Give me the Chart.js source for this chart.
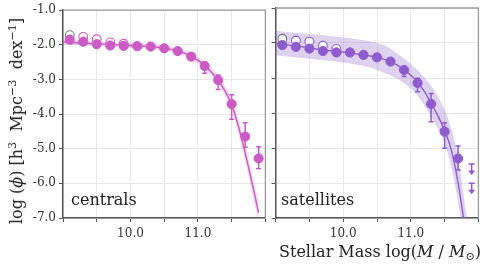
<!DOCTYPE html>
<html><head><meta charset="utf-8">
<script src="https://cdn.jsdelivr.net/npm/chart.js@4/dist/chart.umd.min.js"></script>
<style>
body{margin:0;background:#fff;width:484px;height:265px;overflow:hidden;position:relative;font-family:'DejaVu Serif',serif;color:#222}
canvas{position:absolute;top:0}
#cL{left:0}
#cR{left:270px}
.t{position:absolute;white-space:nowrap;font-size:16px;line-height:1}
sup,sub{font-size:0.7em;line-height:0}
sup{vertical-align:0.55em}
sub{vertical-align:-0.3em}
</style></head><body>
<canvas id="cL" width="271" height="265"></canvas>
<canvas id="cR" width="214" height="265"></canvas>
<div class="t" id="yt" style="left:17px;top:121px;transform:translate(-50%,-50%) rotate(-90deg)">log (<i>ϕ</i>) [h<sup>3</sup>&nbsp; Mpc<sup>−3</sup>&nbsp; dex<sup>−1</sup>]</div>
<div class="t" id="xt" style="right:3px;top:244px">Stellar Mass log(<i>M</i> / <i>M</i><sub>⊙</sub>)</div>
<div class="t" style="left:71px;top:192px">centrals</div>
<div class="t" style="left:281px;top:192px">satellites</div>
<script>
// ---- data ----
const mass = [9.1, 9.3, 9.5, 9.7, 9.9, 10.1, 10.3, 10.5, 10.7, 10.9, 11.1, 11.3, 11.5, 11.7, 11.9];
const massOpen = [9.1, 9.3, 9.5, 9.7, 9.9];
const xTickLabels = ['10.0', '11.0'];

const cenPhi   = [-1.85, -1.91, -1.98, -2.02, -2.03, -2.04, -2.05, -2.10, -2.18, -2.34, -2.61, -3.02, -3.71, -4.65, -5.28];
const cenErrUp = [0.02, 0.02, 0.02, 0.02, 0.02, 0.02, 0.02, 0.03, 0.04, 0.06, 0.11, 0.15, 0.27, 0.40, 0.34];
const cenErrDn = [0.02, 0.02, 0.02, 0.02, 0.02, 0.02, 0.02, 0.03, 0.05, 0.09, 0.21, 0.27, 0.44, 0.31, 0.30];
const cenOpen  = [-1.72, -1.77, -1.84, -1.93, -1.97];

const massModel = [9.0, 9.2, 9.4, 9.6, 9.8, 10.0, 10.2, 10.4, 10.6, 10.8, 11.0, 11.1, 11.2, 11.3, 11.4, 11.5, 11.6, 11.7, 11.8, 11.9];
const cenModel = [-1.92, -1.94, -1.96, -1.98, -2.00, -2.02, -2.04, -2.07, -2.13, -2.24, -2.45, -2.60, -2.79, -3.02, -3.33, -3.72, -4.35, -5.12, -5.97, -6.85];
const cenUpper = [-1.85, -1.87, -1.89, -1.91, -1.93, -1.95, -1.97, -2.00, -2.06, -2.16, -2.36, -2.50, -2.68, -2.90, -3.19, -3.56, -4.15, -4.90, -5.70, -6.55];
const cenLower = [-1.99, -2.01, -2.03, -2.05, -2.07, -2.09, -2.11, -2.14, -2.20, -2.32, -2.54, -2.70, -2.90, -3.14, -3.47, -3.88, -4.55, -5.34, -6.24, -7.15];

const massSat   = [9.1, 9.3, 9.5, 9.7, 9.9, 10.1, 10.3, 10.5, 10.7, 10.9, 11.1, 11.3, 11.5, 11.7];
const satPhi    = [-2.06, -2.11, -2.16, -2.23, -2.27, -2.27, -2.34, -2.41, -2.53, -2.77, -3.14, -3.74, -4.53, -5.30];
const satErrUp  = [0.02, 0.02, 0.02, 0.02, 0.02, 0.02, 0.02, 0.03, 0.04, 0.07, 0.13, 0.30, 0.25, 0.36];
const satErrDn  = [0.02, 0.02, 0.02, 0.02, 0.02, 0.02, 0.02, 0.03, 0.05, 0.19, 0.25, 0.51, 0.48, 0.33];
const satOpen   = [-1.88, -1.93, -1.96, -2.08, -2.17];
const satLimMass = [11.9, 11.9];
const satLimPhi  = [-5.46, -6.01];

const massSatModel = [9.0, 9.2, 9.4, 9.6, 9.8, 10.0, 10.2, 10.4, 10.6, 10.8, 11.0, 11.1, 11.2, 11.3, 11.4, 11.5, 11.6, 11.7, 11.78];
const satModel = [-2.00, -2.06, -2.11, -2.17, -2.22, -2.26, -2.31, -2.37, -2.46, -2.63, -2.92, -3.12, -3.38, -3.72, -4.08, -4.50, -5.06, -6.00, -7.00];
const massSatBand = [9.0, 9.2, 9.4, 9.6, 9.8, 10.0, 10.2, 10.4, 10.6, 10.8, 11.0, 11.1, 11.2, 11.3, 11.4, 11.5, 11.6, 11.7, 11.8, 11.9];
const satUpper = [-1.65, -1.69, -1.72, -1.76, -1.80, -1.84, -1.89, -1.95, -2.06, -2.30, -2.60, -2.78, -2.98, -3.22, -3.52, -3.90, -4.45, -5.25, -6.60, -7.90];
const satLower = [-2.35, -2.39, -2.43, -2.47, -2.51, -2.56, -2.62, -2.70, -2.85, -3.02, -3.30, -3.50, -3.78, -4.10, -4.45, -4.85, -5.55, -6.55, -7.80, -9.00];

// ---- styles ----
const CEN = '#cc5bc5', CEN_BAND = 'rgba(204,91,197,0.25)';
const SAT = '#8e5ccc', SAT_BAND = 'rgba(150,105,210,0.30)';
const FONT = "'DejaVu Serif', serif";
const pts = (xs, ys) => xs.map((x, i) => ({x, y: ys[i]}));

const errPlugin = {
  id: 'errbars',
  beforeDatasetDraw(chart, args) {
    const ds = chart.data.datasets[args.index];
    if (!ds.errUp && !ds.limits) return;
    const {ctx} = chart, x = chart.scales.x, y = chart.scales.y;
    ctx.save();
    ctx.strokeStyle = ds.errColor; ctx.fillStyle = ds.errColor; ctx.lineWidth = 1.5;
    if (ds.errUp) ds.data.forEach((p, i) => {
      const px = x.getPixelForValue(p.x);
      const yt = y.getPixelForValue(p.y + ds.errUp[i]);
      const yb = y.getPixelForValue(p.y - ds.errDn[i]);
      ctx.beginPath();
      ctx.moveTo(px, yt); ctx.lineTo(px, yb);
      ctx.moveTo(px - 2.5, yt); ctx.lineTo(px + 2.5, yt);
      ctx.moveTo(px - 2.5, yb); ctx.lineTo(px + 2.5, yb);
      ctx.stroke();
    });
    if (ds.limits) ds.limits.forEach(p => {
      const px = x.getPixelForValue(p.x);
      const yt = y.getPixelForValue(p.y);
      const yb = y.getPixelForValue(p.y - 0.3);
      ctx.beginPath();
      ctx.moveTo(px - 3, yt); ctx.lineTo(px + 3, yt);
      ctx.moveTo(px, yt); ctx.lineTo(px, yb - 3);
      ctx.stroke();
      ctx.beginPath();
      ctx.moveTo(px - 3.5, yb - 4); ctx.lineTo(px + 3.5, yb - 4); ctx.lineTo(px, yb + 0.5); ctx.closePath();
      ctx.fill();
    });
    ctx.restore();
  }
};

const framePlugin = {
  id: 'frame',
  afterDraw(chart) {
    const {ctx, chartArea: a} = chart;
    ctx.save();
    ctx.strokeStyle = '#9a9a9a'; ctx.lineWidth = 1.3;
    ctx.beginPath();
    ctx.moveTo(a.left, a.top); ctx.lineTo(a.right, a.top); ctx.lineTo(a.right, a.bottom);
    ctx.stroke();
    ctx.restore();
  }
};

function makeChart(id, cfg) {
  const showY = cfg.showYLabels;
  return new Chart(document.getElementById(id), {
    type: 'line',
    data: {datasets: [
      {data: pts(cfg.mass, cfg.phi), showLine: false, order: 0, pointRadius: 4.6, pointHoverRadius: 4.6,
       pointBackgroundColor: cfg.color, pointBorderColor: cfg.color, pointBorderWidth: 1,
       errUp: cfg.errUp, errDn: cfg.errDn, errColor: cfg.color, limits: cfg.limits},
      {data: pts(massOpen, cfg.open), showLine: false, order: 1, pointRadius: 4.4,
       pointBackgroundColor: '#ffffff',
       pointBorderColor: cfg.open.map((v, i) => i === 0 ? '#777777' : cfg.color), pointBorderWidth: 1.1},
      {data: pts(cfg.modelMass, cfg.model), order: 2, borderColor: cfg.color, borderWidth: 1.4,
       pointRadius: 0, fill: false, tension: 0.3, cubicInterpolationMode: 'monotone'},
      {data: pts(cfg.bandMass, cfg.upper), order: 3, borderWidth: 0, pointRadius: 0,
       backgroundColor: cfg.band, fill: '+1', cubicInterpolationMode: 'monotone'},
      {data: pts(cfg.bandMass, cfg.lower), order: 4, borderWidth: 0, pointRadius: 0,
       fill: false, cubicInterpolationMode: 'monotone'}
    ]},
    options: {
      responsive: false, animation: false, devicePixelRatio: 1,
      layout: {padding: {top: 8, right: cfg.padRight, left: 0, bottom: 0}},
      plugins: {legend: {display: false}, tooltip: {enabled: false}},
      scales: {
        x: {type: 'linear', min: 9, max: 12,
            afterFit: s => { s.height = 47; },
            ticks: {stepSize: 0.5, autoSkip: false, maxRotation: 0, padding: 5,
                    font: {family: FONT, size: 12}, color: '#333',
                    callback: v => { const s = v.toFixed(1); return xTickLabels.includes(s) ? s : ''; }},
            grid: {color: '#e8e8e8', lineWidth: 1, tickColor: '#555', tickLength: 4},
            border: {color: '#555', width: 1.5}},
        y: {type: 'linear', min: -7, max: -1,
            afterFit: s => { s.width = cfg.yWidth; },
            ticks: {stepSize: 1, display: showY, padding: 3,
                    font: {family: FONT, size: 12}, color: '#333',
                    callback: v => v.toFixed(1)},
            grid: {color: '#e8e8e8', lineWidth: 1, tickColor: '#555', tickLength: 4},
            border: {color: '#555', width: 1.5}}
      }
    },
    plugins: [errPlugin, framePlugin]
  });
}

makeChart('cL', {showYLabels: true, yWidth: 63, padRight: 1, color: CEN, band: CEN_BAND,
  mass: mass, phi: cenPhi, errUp: cenErrUp, errDn: cenErrDn, open: cenOpen,
  modelMass: massModel, model: cenModel, bandMass: massModel, upper: cenUpper, lower: cenLower});

makeChart('cR', {showYLabels: false, yWidth: 4, padRight: 3, color: SAT, band: SAT_BAND,
  mass: massSat, phi: satPhi, errUp: satErrUp, errDn: satErrDn, open: satOpen,
  limits: pts(satLimMass, satLimPhi),
  modelMass: massSatModel, model: satModel, bandMass: massSatBand, upper: satUpper, lower: satLower});
</script>
</body></html>
